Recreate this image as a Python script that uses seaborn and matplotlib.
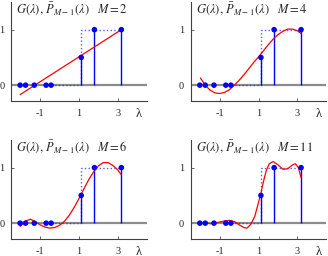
import matplotlib

matplotlib.use("Agg")

import matplotlib.pyplot as plt
import pandas as pd
import seaborn as sns

# eigenvalues (graph frequencies) and the ideal step response G at them
eig_lam = [-2.03, -1.75, -1.30, -0.69, -0.43, 1.12, 1.80, 3.19]
eig_g = [0, 0, 0, 0, 0, 0.5, 1, 1]

# dotted ideal step drawn between the eigenvalues
step_x = [-0.43, 1.12, 1.12, 3.19]
step_y = [0, 0, 1, 1]

orders = [2, 4, 6, 11]

# polynomial approximations
lam_m2 = [-2.03, 3.19]
p_m2 = [-0.17, 1.00]

lam_m4 = [-2.0, -1.75, -1.5, -1.25, -1.0, -0.75, -0.5, -0.25, 0.0, 0.25, 0.5,
          0.75, 1.0, 1.25, 1.5, 1.75, 2.0, 2.25, 2.5, 2.75, 3.0, 3.19]
p_m4 = [0.13, 0.0, -0.09, -0.14, -0.15, -0.13, -0.08, 0.0, 0.09, 0.19, 0.30,
        0.41, 0.51, 0.62, 0.73, 0.83, 0.91, 0.97, 1.01, 1.01, 0.98, 0.93]

lam_m6 = [-2.03, -1.75, -1.5, -1.25, -1.0, -0.75, -0.5, -0.25, 0.0, 0.25, 0.5,
          0.75, 1.0, 1.25, 1.5, 1.75, 2.0, 2.25, 2.5, 2.75, 3.0, 3.19]
p_m6 = [-0.06, 0.04, 0.07, 0.03, -0.03, -0.07, -0.09, -0.08, -0.04, 0.03, 0.14,
        0.28, 0.44, 0.61, 0.78, 0.92, 1.03, 1.09, 1.09, 1.04, 0.96, 0.87]

lam_m11 = [-2.03, -1.75, -1.5, -1.25, -1.0, -0.75, -0.5, -0.25, 0.0, 0.25, 0.4,
           0.6, 0.8, 1.0, 1.1, 1.25, 1.4, 1.55, 1.75, 2.0, 2.25, 2.5, 2.75, 2.9,
           3.05, 3.19]
p_m11 = [-0.02, 0.01, -0.01, 0.0, 0.02, 0.04, 0.05, 0.03, -0.03, -0.08, -0.09,
         -0.02, 0.12, 0.38, 0.51, 0.75, 0.95, 1.07, 1.11, 1.05, 0.97, 0.98, 1.05,
         1.07, 1.0, 0.82]

curves = {2: (lam_m2, p_m2), 4: (lam_m4, p_m4), 6: (lam_m6, p_m6), 11: (lam_m11, p_m11)}

sns.set_theme(style="ticks")
plt.rcParams["font.family"] = ["Liberation Serif", "DejaVu Serif"]
plt.rcParams["mathtext.fontset"] = "stix"

fig = plt.figure(figsize=(3.28, 2.56), dpi=100)
lefts = [0.0335, 0.5814]
bottoms = [0.6066, 0.0676]
w, h = 0.414, 0.386

pts = pd.DataFrame({"lam": eig_lam, "g": eig_g})

for k, M in enumerate(orders):
    ax = fig.add_axes([lefts[k % 2], bottoms[k // 2], w, h])
    ax.axhline(0, color="0.55", lw=1.6, zorder=1)

    # dotted ideal step
    ax.plot(step_x, step_y, ls=":", color="#3030ff", lw=1.0, alpha=0.8, zorder=2)

    # stems for the nonzero samples
    stems = pts[pts["g"] > 0]
    ax.vlines(stems["lam"], 0, stems["g"], color="#0000ff", lw=1.0, zorder=3)

    lam, p = curves[M]
    sns.lineplot(x=lam, y=p, sort=False, estimator=None, color="red", lw=0.9,
                 ax=ax, zorder=4)
    sns.scatterplot(data=pts, x="lam", y="g", color="#0000ff", s=16,
                    edgecolor="none", ax=ax, zorder=5)

    ax.set_xlim(-2.5, 4.5)
    ax.set_ylim(-0.28, 1.5)
    ax.set_xticks([-1, 1, 3])
    ax.set_xticklabels(["-1", "1", "3"])
    ax.set_yticks([0, 1])
    ax.set_yticklabels(["0", "1"])
    ax.tick_params(direction="in", length=2, width=0.6, labelsize=7.5,
                   pad=4.8, color="0.3")
    ax.tick_params(axis="x", pad=5.8)
    ax.set_xlabel("")
    ax.set_ylabel("")
    for side in ("top", "right"):
        ax.spines[side].set_visible(False)
    for side in ("left", "bottom"):
        ax.spines[side].set_color("0.25")
        ax.spines[side].set_linewidth(0.8)

    ax.text(0.04, 0.93, r"$G(\lambda),\,\bar{P}_{M-1}(\lambda)\quad M = %d$" % M,
            transform=ax.transAxes, ha="left", va="center", fontsize=9.0)
    ax.text(0.94, -0.13, "λ", transform=ax.transAxes,
            ha="center", va="center", fontsize=9)

fig.savefig("out.png", dpi=100)
